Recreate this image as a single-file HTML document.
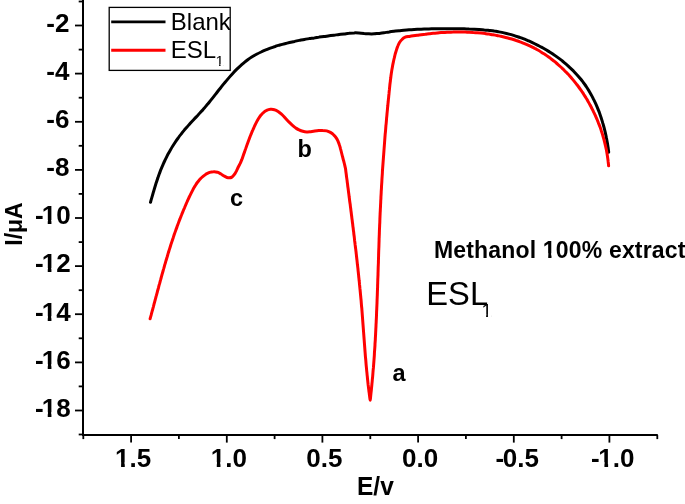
<!DOCTYPE html>
<html><head><meta charset="utf-8"><title>Voltammogram</title>
<style>
html,body{margin:0;padding:0;background:#fff;}
body{width:685px;height:504px;overflow:hidden;}
svg{display:block;}
text{font-family:"Liberation Sans",Arial,Helvetica,sans-serif;fill:#000;}
.tl{font-size:26px;font-weight:bold;}
.b{font-weight:bold;}
</style></head><body>
<svg width="685" height="504" viewBox="0 0 685 504">
<rect x="0" y="0" width="685" height="504" fill="#fff"/>
<path d="M150.5,202.3 C150.7,201.5 151.4,199.0 151.9,197.4 C152.4,195.7 152.9,194.0 153.3,192.4 C153.8,190.8 154.2,189.3 154.7,187.7 C155.2,186.1 155.7,184.4 156.2,182.8 C156.8,181.2 157.2,179.7 157.8,178.1 C158.3,176.6 158.8,175.1 159.4,173.5 C160.0,172.0 160.6,170.2 161.3,168.7 C161.9,167.1 162.5,165.8 163.2,164.2 C163.8,162.7 164.6,161.1 165.3,159.6 C166.1,158.0 166.9,156.4 167.6,154.9 C168.4,153.5 169.1,152.2 170.0,150.7 C170.8,149.3 171.7,147.7 172.6,146.3 C173.5,144.9 174.3,143.6 175.2,142.2 C176.1,140.8 177.2,139.3 178.2,138.0 C179.1,136.6 180.0,135.4 181.1,134.1 C182.1,132.8 183.2,131.4 184.3,130.1 C185.4,128.8 186.4,127.6 187.5,126.4 C188.6,125.1 189.9,123.8 191.0,122.5 C192.1,121.3 193.2,120.2 194.3,119.0 C195.5,117.7 196.8,116.4 197.9,115.2 C199.0,113.9 200.1,112.8 201.2,111.6 C202.3,110.4 203.5,109.0 204.6,107.8 C205.7,106.5 206.6,105.3 207.7,104.1 C208.7,102.8 209.8,101.5 210.9,100.1 C212.0,98.8 213.1,97.4 214.1,96.1 C215.1,94.8 216.0,93.7 217.1,92.3 C218.1,91.0 219.2,89.6 220.3,88.3 C221.3,86.9 222.3,85.7 223.3,84.4 C224.4,83.1 225.4,81.9 226.5,80.6 C227.6,79.3 228.8,77.9 229.9,76.6 C231.0,75.3 232.1,74.1 233.2,72.9 C234.3,71.7 235.4,70.6 236.6,69.4 C237.8,68.2 239.1,66.9 240.4,65.8 C241.6,64.7 242.8,63.7 244.1,62.6 C245.4,61.6 246.8,60.5 248.1,59.5 C249.5,58.5 250.7,57.7 252.1,56.8 C253.5,56.0 255.0,55.1 256.5,54.3 C258.0,53.5 259.6,52.7 261.1,52.0 C262.6,51.2 264.2,50.5 265.8,49.9 C267.3,49.3 268.7,48.7 270.3,48.1 C271.8,47.6 273.6,47.0 275.1,46.5 C276.7,45.9 278.2,45.5 279.8,45.0 C281.4,44.6 283.2,44.1 284.8,43.7 C286.4,43.3 287.9,42.9 289.5,42.5 C291.1,42.1 292.9,41.7 294.6,41.4 C296.2,41.0 297.7,40.7 299.3,40.4 C301.0,40.1 302.8,39.8 304.4,39.5 C306.1,39.2 307.6,38.9 309.2,38.6 C310.9,38.4 312.7,38.1 314.4,37.9 C316.0,37.6 317.6,37.4 319.2,37.1 C320.8,36.9 322.4,36.7 324.0,36.5 C325.7,36.3 327.5,36.0 329.2,35.8 C330.8,35.6 332.3,35.4 334.0,35.2 C335.6,35.0 337.4,34.7 339.1,34.5 C340.8,34.3 342.6,34.1 344.2,33.9 C345.9,33.7 347.4,33.4 349.0,33.3 C350.6,33.1 352.4,32.9 354.1,32.9 C355.8,32.8 357.3,32.9 358.9,33.0 C360.6,33.1 362.4,33.3 364.1,33.5 C365.8,33.6 367.3,33.8 368.9,33.8 C370.6,33.9 372.4,33.9 374.1,33.8 C375.8,33.7 377.5,33.5 379.2,33.4 C380.8,33.2 382.3,33.0 384.0,32.7 C385.6,32.5 387.4,32.2 389.1,32.0 C390.7,31.7 392.2,31.5 393.9,31.3 C395.6,31.1 397.4,30.9 399.0,30.7 C400.7,30.5 402.2,30.4 403.8,30.2 C405.5,30.1 407.2,30.0 409.0,29.8 C410.7,29.7 412.4,29.6 414.1,29.5 C415.8,29.4 417.3,29.3 418.9,29.2 C420.6,29.2 422.4,29.1 424.1,29.0 C425.7,29.0 427.3,28.9 428.9,28.9 C430.6,28.9 432.4,28.8 434.1,28.8 C435.8,28.8 437.3,28.8 438.9,28.7 C440.6,28.7 442.4,28.7 444.1,28.7 C445.8,28.7 447.3,28.7 449.0,28.7 C450.7,28.7 452.5,28.7 454.2,28.7 C455.8,28.7 457.4,28.7 459.1,28.8 C460.7,28.8 462.6,28.8 464.2,28.8 C465.9,28.9 467.4,28.9 469.1,29.0 C470.8,29.0 472.6,29.1 474.3,29.2 C475.9,29.3 477.5,29.4 479.1,29.5 C480.8,29.6 482.6,29.7 484.3,29.9 C485.9,30.0 487.4,30.2 489.1,30.4 C490.7,30.6 492.5,30.8 494.2,31.1 C495.8,31.3 497.3,31.6 498.9,31.9 C500.6,32.2 502.3,32.5 504.0,32.9 C505.6,33.3 507.4,33.7 509.0,34.1 C510.6,34.5 512.0,34.9 513.6,35.4 C515.2,35.9 517.0,36.5 518.5,37.0 C520.1,37.6 521.6,38.1 523.1,38.7 C524.7,39.3 526.4,40.0 527.9,40.6 C529.5,41.3 530.9,41.9 532.4,42.6 C533.9,43.3 535.5,44.1 537.0,44.9 C538.5,45.6 539.9,46.4 541.4,47.1 C542.8,47.9 544.2,48.7 545.6,49.5 C547.0,50.4 548.6,51.3 550.0,52.2 C551.4,53.1 552.7,54.0 554.1,54.9 C555.5,55.9 556.9,56.9 558.3,57.9 C559.7,58.9 561.1,60.0 562.4,61.0 C563.7,62.1 564.8,63.0 566.1,64.1 C567.4,65.2 568.7,66.4 569.9,67.6 C571.1,68.7 572.2,69.7 573.4,70.9 C574.5,72.1 575.7,73.4 576.9,74.7 C578.0,75.9 579.2,77.3 580.2,78.5 C581.3,79.8 582.2,81.0 583.2,82.3 C584.2,83.7 585.2,85.2 586.2,86.5 C587.1,87.9 587.9,89.2 588.8,90.6 C589.6,92.0 590.6,93.6 591.4,95.1 C592.2,96.6 592.9,97.9 593.6,99.4 C594.4,100.9 595.2,102.6 595.9,104.1 C596.6,105.7 597.2,107.1 597.8,108.6 C598.4,110.2 599.0,111.6 599.6,113.2 C600.1,114.8 600.8,116.6 601.3,118.2 C601.8,119.8 602.3,121.3 602.7,122.9 C603.2,124.4 603.6,126.0 604.1,127.6 C604.5,129.2 604.9,131.0 605.3,132.6 C605.7,134.3 606.0,135.8 606.3,137.4 C606.7,139.0 607.0,140.8 607.3,142.5 C607.6,144.1 607.8,145.9 608.1,147.5 C608.3,149.1 608.6,151.4 608.7,152.2" fill="none" stroke="#000" stroke-width="3" stroke-linejoin="round" stroke-linecap="round"/>
<path d="M150.1,318.8 C150.3,318.1 150.8,316.2 151.2,314.9 C151.5,313.6 151.9,312.3 152.2,311.0 C152.6,309.7 152.9,308.4 153.3,307.1 C153.6,305.8 154.0,304.5 154.3,303.2 C154.6,302.0 155.0,300.7 155.3,299.4 C155.7,298.1 156.0,296.7 156.4,295.4 C156.7,294.2 157.1,292.9 157.4,291.6 C157.7,290.3 158.1,289.0 158.5,287.7 C158.8,286.4 159.1,285.1 159.5,283.9 C159.9,282.6 160.2,281.2 160.6,279.9 C160.9,278.6 161.3,277.4 161.6,276.1 C162.0,274.8 162.3,273.5 162.7,272.2 C163.1,270.9 163.4,269.6 163.8,268.4 C164.2,267.1 164.5,265.7 164.9,264.4 C165.3,263.2 165.6,261.9 166.0,260.6 C166.4,259.4 166.8,258.0 167.2,256.8 C167.6,255.5 167.9,254.2 168.3,252.9 C168.7,251.7 169.1,250.3 169.5,249.1 C169.9,247.8 170.3,246.6 170.7,245.3 C171.1,244.0 171.6,242.7 172.0,241.4 C172.4,240.1 172.8,238.9 173.2,237.7 C173.6,236.4 174.1,235.1 174.5,233.8 C175.0,232.5 175.4,231.3 175.8,230.1 C176.3,228.8 176.8,227.5 177.2,226.2 C177.7,225.0 178.1,223.8 178.6,222.5 C179.1,221.2 179.6,219.9 180.1,218.7 C180.6,217.4 181.0,216.2 181.5,215.0 C182.0,213.7 182.5,212.5 183.0,211.3 C183.5,210.1 184.0,208.8 184.6,207.6 C185.1,206.4 185.7,205.1 186.2,203.8 C186.7,202.6 187.3,201.4 187.8,200.2 C188.4,199.0 188.9,197.7 189.5,196.5 C190.1,195.3 190.7,194.1 191.3,192.9 C191.9,191.7 192.5,190.5 193.1,189.3 C193.7,188.2 194.4,187.0 195.1,185.9 C195.8,184.8 196.5,183.6 197.3,182.5 C198.1,181.5 199.0,180.4 199.8,179.4 C200.7,178.5 201.7,177.5 202.7,176.7 C203.7,175.8 204.8,174.9 205.9,174.2 C207.1,173.6 208.3,172.9 209.6,172.4 C210.8,172.0 212.2,171.7 213.5,171.7 C214.8,171.6 216.1,171.8 217.4,172.2 C218.6,172.6 219.9,173.4 221.0,174.0 C222.2,174.7 223.2,175.5 224.4,176.1 C225.6,176.7 226.9,177.6 228.1,177.7 C229.4,177.9 230.9,177.7 231.9,177.1 C233.0,176.5 233.9,175.1 234.7,174.0 C235.4,173.0 236.0,171.8 236.6,170.7 C237.2,169.5 237.7,168.2 238.3,167.0 C238.9,165.8 239.6,164.6 240.2,163.4 C240.7,162.2 241.3,160.9 241.8,159.7 C242.3,158.4 242.7,157.2 243.1,156.0 C243.5,154.8 244.0,153.4 244.5,152.2 C244.9,150.9 245.4,149.6 245.8,148.4 C246.2,147.1 246.7,145.9 247.1,144.6 C247.6,143.4 248.0,142.1 248.5,140.8 C249.0,139.6 249.4,138.3 249.9,137.1 C250.4,135.9 250.9,134.6 251.4,133.4 C251.9,132.1 252.4,130.8 253.0,129.6 C253.5,128.4 254.1,127.2 254.6,126.0 C255.2,124.8 255.8,123.6 256.4,122.4 C257.0,121.2 257.7,120.0 258.4,118.8 C259.1,117.7 259.8,116.6 260.6,115.5 C261.5,114.5 262.4,113.4 263.4,112.6 C264.4,111.7 265.5,110.9 266.6,110.4 C267.8,109.8 269.2,109.4 270.5,109.3 C271.8,109.2 273.2,109.3 274.5,109.7 C275.7,110.0 277.0,110.7 278.1,111.4 C279.2,112.1 280.2,113.0 281.2,113.9 C282.2,114.8 283.2,115.8 284.1,116.7 C285.0,117.7 285.9,118.7 286.8,119.7 C287.7,120.7 288.7,121.7 289.6,122.6 C290.5,123.6 291.5,124.5 292.5,125.3 C293.5,126.2 294.5,127.1 295.6,127.9 C296.7,128.6 297.9,129.4 299.1,129.9 C300.3,130.5 301.5,131.0 302.8,131.3 C304.1,131.7 305.5,131.9 306.8,131.9 C308.1,132.0 309.5,131.8 310.8,131.7 C312.2,131.6 313.5,131.3 314.8,131.1 C316.1,130.9 317.5,130.7 318.8,130.6 C320.1,130.5 321.4,130.3 322.7,130.4 C324.1,130.4 325.5,130.6 326.7,130.9 C328.0,131.3 329.3,131.8 330.4,132.4 C331.6,133.1 332.7,133.9 333.6,134.8 C334.6,135.7 335.5,136.8 336.2,137.9 C337.0,139.1 337.6,140.3 338.1,141.5 C338.7,142.7 339.1,144.0 339.5,145.2 C340.0,146.5 340.3,147.8 340.6,149.1 C341.0,150.4 341.3,151.7 341.6,153.0 C341.9,154.3 342.2,155.6 342.6,156.9 C342.9,158.2 343.2,159.5 343.6,160.7 C343.9,162.0 344.3,163.3 344.6,164.6 C344.9,165.9 345.2,167.2 345.5,168.5 C345.7,169.8 345.8,171.2 346.0,172.5 C346.2,173.8 346.4,175.2 346.5,176.6 C346.7,177.9 346.9,179.2 347.1,180.6 C347.2,181.9 347.4,183.2 347.6,184.6 C347.7,185.9 347.9,187.2 348.1,188.5 C348.3,189.9 348.4,191.2 348.6,192.5 C348.8,193.8 349.0,195.2 349.1,196.5 C349.3,197.8 349.5,199.1 349.6,200.5 C349.8,201.8 350.0,203.1 350.2,204.4 C350.3,205.8 350.5,207.1 350.7,208.4 C350.8,209.7 351.0,211.1 351.2,212.4 C351.3,213.7 351.5,215.1 351.7,216.4 C351.8,217.7 352.0,219.0 352.2,220.4 C352.3,221.7 352.5,223.0 352.7,224.3 C352.8,225.7 353.0,227.0 353.2,228.3 C353.3,229.7 353.5,231.0 353.7,232.3 C353.8,233.7 354.0,235.1 354.2,236.4 C354.3,237.7 354.5,239.1 354.6,240.4 C354.8,241.7 355.0,243.0 355.1,244.4 C355.3,245.7 355.4,247.0 355.6,248.4 C355.8,249.7 355.9,251.0 356.1,252.3 C356.2,253.7 356.4,255.0 356.5,256.3 C356.7,257.7 356.8,259.0 357.0,260.3 C357.1,261.6 357.3,263.0 357.4,264.3 C357.6,265.6 357.7,267.0 357.9,268.3 C358.0,269.6 358.1,270.9 358.3,272.3 C358.4,273.6 358.6,274.9 358.7,276.3 C358.8,277.6 359.0,278.9 359.1,280.3 C359.3,281.6 359.4,282.9 359.5,284.2 C359.7,285.6 359.8,286.9 359.9,288.2 C360.1,289.6 360.2,290.9 360.3,292.2 C360.4,293.6 360.6,295.0 360.7,296.4 C360.8,297.7 360.9,299.0 361.1,300.3 C361.2,301.7 361.3,303.0 361.4,304.3 C361.5,305.7 361.6,307.0 361.8,308.3 C361.9,309.7 362.0,311.0 362.1,312.3 C362.2,313.7 362.3,315.0 362.4,316.3 C362.5,317.7 362.6,319.0 362.7,320.3 C362.8,321.7 362.9,323.0 363.0,324.4 C363.1,325.7 363.2,327.0 363.3,328.4 C363.4,329.7 363.5,331.0 363.6,332.4 C363.7,333.7 363.8,335.0 363.9,336.4 C364.0,337.7 364.1,339.0 364.2,340.4 C364.3,341.7 364.4,343.0 364.5,344.4 C364.6,345.7 364.7,347.0 364.8,348.4 C364.9,349.7 365.0,351.0 365.1,352.4 C365.2,353.7 365.3,355.0 365.4,356.4 C365.5,357.7 365.7,359.0 365.8,360.4 C365.9,361.7 366.0,363.0 366.1,364.4 C366.2,365.7 366.4,367.1 366.5,368.5 C366.6,369.8 366.7,371.1 366.9,372.5 C367.0,373.8 367.1,375.1 367.3,376.4 C367.4,377.8 367.5,379.1 367.7,380.4 C367.8,381.8 368.0,383.1 368.1,384.4 C368.3,385.7 368.4,387.1 368.6,388.4 C368.8,389.7 368.9,391.0 369.1,392.4 C369.3,393.7 369.4,395.0 369.6,396.3 C369.8,397.7 370.0,400.3 370.2,400.3 C370.4,400.3 370.5,397.5 370.7,396.1 C370.8,394.7 371.0,393.4 371.1,392.1 C371.3,390.8 371.4,389.4 371.5,388.1 C371.7,386.7 371.8,385.4 371.9,384.1 C372.1,382.7 372.2,381.4 372.3,380.0 C372.4,378.7 372.6,377.4 372.7,376.0 C372.8,374.7 372.9,373.3 373.0,372.0 C373.1,370.6 373.2,369.3 373.4,367.9 C373.5,366.6 373.6,365.3 373.7,363.9 C373.8,362.6 373.9,361.2 374.0,359.9 C374.1,358.5 374.2,357.2 374.3,355.9 C374.4,354.5 374.4,353.2 374.5,351.8 C374.6,350.5 374.7,349.1 374.8,347.8 C374.9,346.5 375.0,345.3 375.0,343.9 C375.1,342.6 375.2,341.2 375.3,339.9 C375.3,338.6 375.4,337.2 375.5,335.9 C375.6,334.5 375.6,333.2 375.7,331.8 C375.8,330.5 375.8,329.1 375.9,327.8 C376.0,326.4 376.0,325.1 376.1,323.7 C376.2,322.4 376.2,321.0 376.3,319.7 C376.4,318.3 376.4,317.0 376.5,315.6 C376.5,314.3 376.6,312.9 376.6,311.6 C376.7,310.3 376.8,308.9 376.8,307.6 C376.9,306.2 376.9,304.9 377.0,303.5 C377.0,302.2 377.1,300.8 377.1,299.5 C377.2,298.1 377.2,296.8 377.3,295.4 C377.3,294.1 377.4,292.7 377.4,291.4 C377.5,290.0 377.5,288.7 377.6,287.3 C377.6,286.0 377.6,284.6 377.7,283.3 C377.7,281.9 377.8,280.6 377.8,279.2 C377.9,277.9 377.9,276.5 378.0,275.2 C378.0,273.8 378.0,272.5 378.1,271.1 C378.1,269.8 378.2,268.4 378.2,267.1 C378.3,265.7 378.3,264.4 378.4,263.0 C378.4,261.7 378.4,260.3 378.5,259.0 C378.5,257.7 378.6,256.4 378.6,255.1 C378.6,253.8 378.7,252.4 378.7,251.1 C378.8,249.7 378.8,248.4 378.9,247.0 C378.9,245.7 379.0,244.3 379.0,243.0 C379.1,241.6 379.1,240.3 379.1,238.9 C379.2,237.6 379.2,236.2 379.3,234.9 C379.3,233.5 379.4,232.2 379.4,230.8 C379.5,229.5 379.5,228.1 379.6,226.8 C379.6,225.4 379.7,224.1 379.8,222.7 C379.8,221.4 379.9,220.0 379.9,218.7 C380.0,217.3 380.0,216.0 380.1,214.6 C380.1,213.3 380.2,211.9 380.3,210.6 C380.3,209.2 380.4,207.9 380.5,206.6 C380.5,205.2 380.6,203.9 380.7,202.5 C380.7,201.2 380.8,199.8 380.9,198.5 C380.9,197.1 381.0,195.8 381.1,194.4 C381.2,193.1 381.2,191.7 381.3,190.4 C381.4,189.0 381.5,187.7 381.5,186.4 C381.6,185.0 381.7,183.7 381.8,182.3 C381.9,181.0 381.9,179.6 382.0,178.3 C382.1,176.9 382.2,175.6 382.3,174.2 C382.4,172.9 382.4,171.6 382.5,170.2 C382.6,168.9 382.7,167.5 382.8,166.2 C382.9,164.8 383.0,163.5 383.1,162.1 C383.2,160.8 383.3,159.5 383.4,158.1 C383.5,156.8 383.6,155.4 383.7,154.1 C383.8,152.7 383.9,151.4 384.0,150.0 C384.1,148.7 384.2,147.4 384.3,146.0 C384.4,144.7 384.5,143.3 384.6,142.0 C384.7,140.6 384.8,139.3 384.9,137.9 C385.0,136.6 385.1,135.3 385.2,133.9 C385.4,132.6 385.5,131.2 385.6,129.9 C385.7,128.5 385.8,127.2 385.9,125.8 C386.1,124.5 386.2,123.3 386.3,122.0 C386.4,120.7 386.5,119.3 386.6,118.0 C386.8,116.6 386.9,115.3 387.0,113.9 C387.1,112.6 387.3,111.2 387.4,109.9 C387.5,108.5 387.6,107.2 387.8,105.8 C387.9,104.5 388.0,103.2 388.2,101.8 C388.3,100.5 388.4,99.1 388.6,97.8 C388.7,96.4 388.8,95.1 389.0,93.7 C389.1,92.4 389.2,91.0 389.4,89.7 C389.5,88.4 389.7,87.0 389.8,85.7 C389.9,84.3 390.1,83.0 390.3,81.6 C390.4,80.3 390.6,78.9 390.8,77.6 C390.9,76.3 391.1,74.9 391.3,73.6 C391.5,72.3 391.7,70.9 391.9,69.6 C392.2,68.3 392.4,67.1 392.6,65.8 C392.8,64.5 393.1,63.1 393.4,61.8 C393.7,60.5 393.9,59.2 394.3,57.9 C394.6,56.6 394.9,55.3 395.2,54.0 C395.6,52.7 396.0,51.4 396.4,50.1 C396.8,48.8 397.2,47.5 397.7,46.3 C398.2,45.0 398.8,43.7 399.5,42.5 C400.2,41.4 401.0,40.4 402.0,39.5 C402.9,38.5 404.0,37.6 405.2,37.1 C406.4,36.6 408.0,36.6 409.3,36.4 C410.6,36.2 411.9,36.0 413.2,35.8 C414.6,35.6 415.9,35.4 417.2,35.2 C418.5,35.0 419.9,34.9 421.2,34.7 C422.5,34.5 423.8,34.3 425.2,34.2 C426.5,34.0 427.8,33.9 429.1,33.7 C430.5,33.6 431.8,33.4 433.1,33.3 C434.4,33.2 435.7,33.1 437.0,33.0 C438.3,32.9 439.7,32.7 441.0,32.6 C442.3,32.6 443.7,32.5 445.0,32.4 C446.3,32.3 447.7,32.3 449.0,32.2 C450.3,32.2 451.7,32.1 453.0,32.1 C454.4,32.0 455.8,32.0 457.2,32.0 C458.5,32.0 459.8,32.0 461.2,32.0 C462.5,32.0 463.8,32.1 465.2,32.1 C466.5,32.1 467.8,32.2 469.2,32.2 C470.5,32.3 471.8,32.4 473.2,32.5 C474.5,32.5 475.8,32.7 477.2,32.8 C478.5,32.9 479.8,33.0 481.2,33.1 C482.5,33.3 483.9,33.5 485.2,33.6 C486.5,33.8 487.7,34.0 489.0,34.1 C490.3,34.3 491.6,34.6 493.0,34.8 C494.3,35.0 495.6,35.2 496.9,35.5 C498.2,35.8 499.6,36.0 500.9,36.3 C502.2,36.6 503.5,36.9 504.8,37.2 C506.1,37.5 507.4,37.9 508.7,38.2 C510.0,38.6 511.3,38.9 512.6,39.3 C513.9,39.7 515.1,40.1 516.3,40.5 C517.6,40.9 518.9,41.3 520.1,41.8 C521.4,42.3 522.6,42.8 523.9,43.3 C525.1,43.8 526.3,44.3 527.5,44.8 C528.8,45.4 530.1,46.0 531.3,46.6 C532.5,47.2 533.7,47.8 534.8,48.4 C536.0,49.0 537.2,49.7 538.3,50.3 C539.5,51.0 540.6,51.7 541.7,52.4 C542.8,53.1 544.0,53.8 545.1,54.5 C546.2,55.3 547.2,56.0 548.3,56.8 C549.4,57.6 550.6,58.4 551.6,59.3 C552.7,60.1 553.8,60.9 554.8,61.7 C555.8,62.6 556.8,63.4 557.8,64.3 C558.8,65.2 559.8,66.1 560.8,67.0 C561.8,67.9 562.7,68.8 563.7,69.7 C564.7,70.7 565.6,71.6 566.5,72.6 C567.4,73.6 568.4,74.5 569.3,75.5 C570.2,76.5 571.1,77.5 571.9,78.5 C572.8,79.5 573.7,80.6 574.5,81.6 C575.4,82.7 576.2,83.7 577.0,84.8 C577.8,85.8 578.6,86.9 579.4,88.0 C580.2,89.1 580.9,90.1 581.7,91.2 C582.4,92.3 583.2,93.4 583.9,94.6 C584.6,95.7 585.4,96.8 586.1,98.0 C586.8,99.1 587.5,100.3 588.1,101.5 C588.8,102.6 589.4,103.7 590.0,104.9 C590.7,106.0 591.3,107.2 591.9,108.5 C592.6,109.7 593.2,110.9 593.7,112.1 C594.3,113.3 594.9,114.5 595.5,115.8 C596.0,117.0 596.5,118.1 597.0,119.3 C597.5,120.6 598.0,121.8 598.5,123.1 C599.0,124.3 599.5,125.6 600.0,126.9 C600.4,128.1 600.9,129.4 601.3,130.7 C601.7,131.9 602.1,133.1 602.5,134.4 C602.8,135.7 603.2,137.0 603.6,138.2 C604.0,139.5 604.3,140.8 604.6,142.1 C604.9,143.4 605.2,144.7 605.5,146.0 C605.8,147.3 606.1,148.6 606.4,149.9 C606.6,151.3 606.9,152.7 607.1,154.0 C607.3,155.3 607.5,156.6 607.7,157.9 C607.9,159.2 608.1,160.6 608.2,161.9 C608.4,163.2 608.5,165.1 608.6,165.8" fill="none" stroke="#ff0000" stroke-width="3" stroke-linejoin="round" stroke-linecap="round"/>
<line x1="83.0" y1="0" x2="83.0" y2="436.1" stroke="#000" stroke-width="2"/>
<line x1="82.0" y1="435.1" x2="657.8" y2="435.1" stroke="#000" stroke-width="2"/>
<line x1="78.7" y1="1.5" x2="83.0" y2="1.5" stroke="#000" stroke-width="1.8"/>
<line x1="75" y1="25.5" x2="83.0" y2="25.5" stroke="#000" stroke-width="1.8"/>
<text x="69.4" y="31.8" class="tl" text-anchor="end">-2</text>
<line x1="78.7" y1="49.6" x2="83.0" y2="49.6" stroke="#000" stroke-width="1.8"/>
<line x1="75" y1="73.6" x2="83.0" y2="73.6" stroke="#000" stroke-width="1.8"/>
<text x="69.4" y="79.9" class="tl" text-anchor="end">-4</text>
<line x1="78.7" y1="97.7" x2="83.0" y2="97.7" stroke="#000" stroke-width="1.8"/>
<line x1="75" y1="121.8" x2="83.0" y2="121.8" stroke="#000" stroke-width="1.8"/>
<text x="69.4" y="128.1" class="tl" text-anchor="end">-6</text>
<line x1="78.7" y1="145.8" x2="83.0" y2="145.8" stroke="#000" stroke-width="1.8"/>
<line x1="75" y1="169.9" x2="83.0" y2="169.9" stroke="#000" stroke-width="1.8"/>
<text x="69.4" y="176.2" class="tl" text-anchor="end">-8</text>
<line x1="78.7" y1="193.9" x2="83.0" y2="193.9" stroke="#000" stroke-width="1.8"/>
<line x1="75" y1="218.0" x2="83.0" y2="218.0" stroke="#000" stroke-width="1.8"/>
<text x="70.6" y="224.3" class="tl" text-anchor="end">-<tspan dx="-2">10</tspan></text>
<line x1="78.7" y1="242.1" x2="83.0" y2="242.1" stroke="#000" stroke-width="1.8"/>
<line x1="75" y1="266.1" x2="83.0" y2="266.1" stroke="#000" stroke-width="1.8"/>
<text x="70.6" y="272.4" class="tl" text-anchor="end">-<tspan dx="-2">12</tspan></text>
<line x1="78.7" y1="290.2" x2="83.0" y2="290.2" stroke="#000" stroke-width="1.8"/>
<line x1="75" y1="314.2" x2="83.0" y2="314.2" stroke="#000" stroke-width="1.8"/>
<text x="70.6" y="320.5" class="tl" text-anchor="end">-<tspan dx="-2">14</tspan></text>
<line x1="78.7" y1="338.3" x2="83.0" y2="338.3" stroke="#000" stroke-width="1.8"/>
<line x1="75" y1="362.4" x2="83.0" y2="362.4" stroke="#000" stroke-width="1.8"/>
<text x="70.6" y="368.7" class="tl" text-anchor="end">-<tspan dx="-2">16</tspan></text>
<line x1="78.7" y1="386.4" x2="83.0" y2="386.4" stroke="#000" stroke-width="1.8"/>
<line x1="75" y1="410.5" x2="83.0" y2="410.5" stroke="#000" stroke-width="1.8"/>
<text x="70.6" y="416.8" class="tl" text-anchor="end">-<tspan dx="-2">18</tspan></text>
<line x1="78.7" y1="434.5" x2="83.0" y2="434.5" stroke="#000" stroke-width="1.8"/>
<line x1="83.3" y1="435.1" x2="83.3" y2="439.1" stroke="#000" stroke-width="1.8"/>
<line x1="131.1" y1="435.1" x2="131.1" y2="442.6" stroke="#000" stroke-width="1.8"/>
<text x="133.1" y="466.7" class="tl" text-anchor="middle">1.5</text>
<line x1="178.9" y1="435.1" x2="178.9" y2="439.1" stroke="#000" stroke-width="1.8"/>
<line x1="226.8" y1="435.1" x2="226.8" y2="442.6" stroke="#000" stroke-width="1.8"/>
<text x="228.8" y="466.7" class="tl" text-anchor="middle">1.0</text>
<line x1="274.6" y1="435.1" x2="274.6" y2="439.1" stroke="#000" stroke-width="1.8"/>
<line x1="322.4" y1="435.1" x2="322.4" y2="442.6" stroke="#000" stroke-width="1.8"/>
<text x="324.4" y="466.7" class="tl" text-anchor="middle">0.5</text>
<line x1="370.3" y1="435.1" x2="370.3" y2="439.1" stroke="#000" stroke-width="1.8"/>
<line x1="418.1" y1="435.1" x2="418.1" y2="442.6" stroke="#000" stroke-width="1.8"/>
<text x="420.1" y="466.7" class="tl" text-anchor="middle">0.0</text>
<line x1="465.9" y1="435.1" x2="465.9" y2="439.1" stroke="#000" stroke-width="1.8"/>
<line x1="513.8" y1="435.1" x2="513.8" y2="442.6" stroke="#000" stroke-width="1.8"/>
<text x="517.2" y="466.7" class="tl" text-anchor="middle">-<tspan dx="-1.4">0.5</tspan></text>
<line x1="561.6" y1="435.1" x2="561.6" y2="439.1" stroke="#000" stroke-width="1.8"/>
<line x1="609.4" y1="435.1" x2="609.4" y2="442.6" stroke="#000" stroke-width="1.8"/>
<text x="612.8" y="466.7" class="tl" text-anchor="middle">-<tspan dx="-1.4">1.0</tspan></text>
<line x1="657.3" y1="435.1" x2="657.3" y2="439.1" stroke="#000" stroke-width="1.8"/>
<!-- legend -->
<rect x="109.2" y="7.4" width="121" height="63" fill="none" stroke="#000" stroke-width="1.3"/>
<line x1="111.2" y1="21.9" x2="165.5" y2="21.9" stroke="#000" stroke-width="2.8"/>
<line x1="111.2" y1="50.3" x2="165.5" y2="50.3" stroke="#ff0000" stroke-width="3"/>
<text x="170.8" y="29.6" font-size="24">Blank</text>
<text x="170.8" y="57.5" font-size="24">ESL<tspan font-size="15" dx="-0.8" dy="8.9">1</tspan></text>
<!-- peak labels -->
<text x="230" y="206" class="b" font-size="23.5">c</text>
<text x="297.5" y="157.3" class="b" font-size="23.5">b</text>
<text x="392.5" y="380.5" class="b" font-size="23.5">a</text>
<text x="434" y="257.5" class="b" font-size="23" letter-spacing="0.17">Methanol 100% extract</text>
<text x="426.3" y="305" font-size="32.7">ESL</text>
<text x="481.4" y="316.7" font-size="19">1</text>
<!-- axis titles -->
<text transform="translate(357,495) scale(1,1.06)" class="b" font-size="24.5">E/v</text>
<text transform="translate(21.5,224) rotate(-90)" text-anchor="middle" class="b" font-size="23">I/&#956;A</text>
<g>
<rect x="42.46" y="220.00" width="5.28" height="6.00" fill="#fff"/>
<rect x="51.43" y="220.00" width="4.81" height="6.00" fill="#fff"/>
<rect x="42.46" y="268.00" width="5.28" height="6.00" fill="#fff"/>
<rect x="51.43" y="268.00" width="4.81" height="6.00" fill="#fff"/>
<rect x="42.46" y="316.00" width="5.28" height="6.00" fill="#fff"/>
<rect x="51.43" y="316.00" width="4.81" height="6.00" fill="#fff"/>
<rect x="42.46" y="364.00" width="5.28" height="6.00" fill="#fff"/>
<rect x="51.43" y="364.00" width="4.81" height="6.00" fill="#fff"/>
<rect x="42.46" y="412.00" width="5.28" height="6.00" fill="#fff"/>
<rect x="51.43" y="412.00" width="4.81" height="6.00" fill="#fff"/>
<rect x="115.80" y="462.00" width="5.28" height="6.00" fill="#fff"/>
<rect x="124.77" y="462.00" width="4.81" height="6.00" fill="#fff"/>
<rect x="211.50" y="462.00" width="5.28" height="6.00" fill="#fff"/>
<rect x="220.47" y="462.00" width="4.81" height="6.00" fill="#fff"/>
<rect x="599.14" y="462.00" width="5.28" height="6.00" fill="#fff"/>
<rect x="608.11" y="462.00" width="4.81" height="6.00" fill="#fff"/>
<rect x="216.05" y="64.00" width="3.05" height="3.00" fill="#fff"/>
<rect x="220.53" y="64.00" width="2.87" height="3.00" fill="#fff"/>
<rect x="543.55" y="253.00" width="4.67" height="6.00" fill="#fff"/>
<rect x="551.48" y="253.00" width="4.26" height="6.00" fill="#fff"/>
<rect x="482.25" y="314.00" width="3.86" height="4.00" fill="#fff"/>
<rect x="487.94" y="314.00" width="3.63" height="4.00" fill="#fff"/>
</g>
</svg>
</body></html>
